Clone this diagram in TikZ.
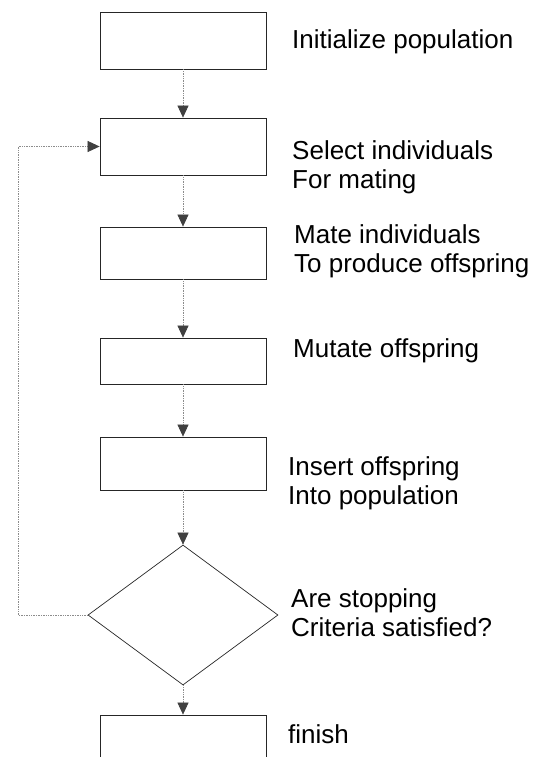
\documentclass[tikz,border=0pt]{standalone}
\usepackage{fontspec}
\setmainfont{Liberation Sans}
\usetikzlibrary{arrows.meta,shapes.geometric}

\tikzset{
  box/.style={draw=black!85, line width=0.8pt, minimum width=166pt, inner sep=0pt},
  decision/.style={diamond, draw=black!85, line width=0.7pt, minimum width=190pt,
                   minimum height=140pt, aspect=1.36, inner sep=0pt},
  txt/.style={anchor=west, align=left, inner sep=0pt,
              font=\fontsize{26}{29}\selectfont},
  flow/.style={draw=black!45, densely dotted, line width=0.7pt,
               -{Triangle[width=11pt,length=12pt,color=black!75,fill=black!75]}}
}

\begin{document}
\begin{tikzpicture}[x=1pt,y=-1pt]
          \clip (0,0) rectangle (539,757);

          \node (b1) [box, minimum height=57pt] at (183,40.5)  {};
          \node (b2) [box, minimum height=57pt] at (183,146.5) {};
          \node (b3) [box, minimum height=52pt] at (183,253)   {};
          \node (b4) [box, minimum height=46pt] at (183,361)   {};
          \node (b5) [box, minimum height=53pt] at (183,463.5) {};
          \node (d)  [decision]                 at (183,615)   {};
          \node (b6) [box, minimum height=60pt] at (183,745)   {};
          \coordinate (back) at (18,615);

          \node (t1) [txt] at (292,42)  {Initialize population};
          \node (t2) [txt] at (292,167) {Select individuals\\For mating};
          \node (t3) [txt] at (294,251) {Mate individuals\\To produce offspring};
          \node (t4) [txt] at (293,351) {Mutate offspring};
          \node (t5) [txt] at (288,483) {Insert offspring\\Into population};
          \node (t6) [txt] at (291,613) {Are stopping\\Criteria satisfied?};
          \node (t7) [txt] at (288,734) {finish};

          \draw [flow] (b1) to (b2);
          \draw [flow] (b2) to (b3);
          \draw [flow] (b3) to (b4);
          \draw [flow] (b4) to (b5);
          \draw [flow] (b5) to (d);
          \draw [flow] (d)  to (b6);
          \draw [flow] (d.west) -- (back) |- (b2.west);
        \end{tikzpicture}
\end{document}
